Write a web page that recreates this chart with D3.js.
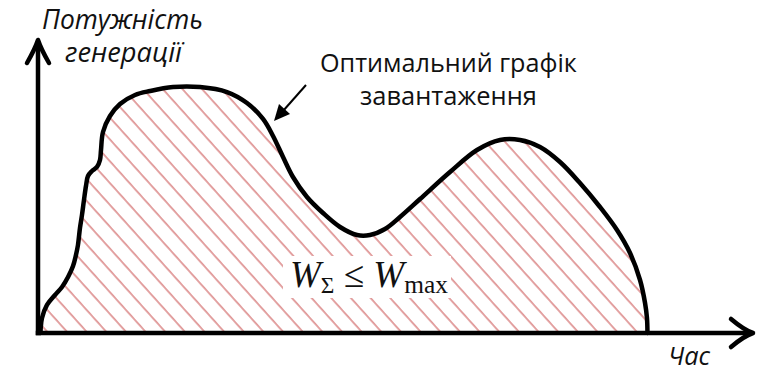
<!DOCTYPE html>
<html><head><meta charset="utf-8">
<script src="https://cdn.jsdelivr.net/npm/d3@7"></script>
<style>
html,body{margin:0;padding:0;background:#fff;}
svg{display:block;}
</style></head>
<body>
<svg id="chart" width="769" height="372"></svg>
<script>
// Time (relative units, 0..100 along the horizontal axis)
const timeValues = [0.35,0.38,0.56,1.26,2.38,3.36,4.2,4.9,5.31,5.59,5.87,6.15,6.43,6.71,6.99,7.55,8.25,8.67,8.81,9.09,10.07,11.47,13.57,15.66,18.88,22.66,26.43,29.23,31.47,32.87,34.27,35.66,37.62,39.86,42.24,44.62,46.43,48.53,50.63,53.43,57.62,61.4,64.62,67.41,70.21,73.01,75.8,78.6,80.98,82.8,84.2,84.9,85.17,85.24];
// Generation power (relative units, 0..100 along the vertical axis)
const powerValues = [0,1.71,5.12,9.56,12.97,15.7,19.11,22.87,26.62,30.03,35.84,40.27,45.39,50.17,53.58,55.29,56.66,59.04,62.46,68.6,74.06,78.16,81.23,82.59,83.96,83.96,82.25,78.5,73.04,67.24,60.07,53.24,46.42,40.96,36.18,33.45,33.45,35.49,39.59,45.73,54.95,62.46,65.87,65.87,63.48,58.36,51.19,43.0,35.15,27.3,18.09,10.24,5.12,0];
const yAxisLabel = ["Потужність", "генерації"];
const xAxisLabel = "Час";
const curveLabel = ["Оптимальний графік", "завантаження"];

const svg = d3.select("#chart");
const x = d3.scaleLinear().domain([0,100]).range([38,753]);
const y = d3.scaleLinear().domain([0,100]).range([333,40]);
const data = timeValues.map((t,i)=>({t, p: powerValues[i]}));

const defs = svg.append("defs");
const pat = defs.append("pattern").attr("id","hatch").attr("patternUnits","userSpaceOnUse")
  .attr("width",14.6).attr("height",14.6).attr("patternTransform","rotate(-42)");
pat.append("line").attr("x1",3).attr("x2",3).attr("y1",-2).attr("y2",17)
  .attr("stroke","#d46f6f").attr("stroke-width",1.5).attr("stroke-opacity",0.85);

const area = d3.area().x(d=>x(d.t)).y0(y(0)).y1(d=>y(d.p)).curve(d3.curveCatmullRom.alpha(0.5));
const line = d3.line().x(d=>x(d.t)).y(d=>y(d.p)).curve(d3.curveCatmullRom.alpha(0.5));

svg.append("path").datum(data).attr("d",area).attr("fill","url(#hatch)");

// formula with white box
const fg = svg.append("g");
fg.append("rect").attr("x",283).attr("y",256).attr("width",168).attr("height",42).attr("fill","#fff");
const ft = fg.append("text").attr("x",290).attr("y",287)
  .attr("font-family","'Liberation Serif','DejaVu Serif',serif").attr("font-size",35).attr("fill","#111");
ft.append("tspan").attr("font-style","italic").text("W");
ft.append("tspan").attr("font-size",22).attr("dy",6).text("Σ");
ft.append("tspan").attr("dy",-6).text(" ≤ ");
ft.append("tspan").attr("font-style","italic").text("W");
ft.append("tspan").attr("font-size",24).attr("dy",6).text("max");
(function(){const w=ft.node().getComputedTextLength();const target=158;
  if(w>0){const s=target/w; ft.attr("transform",`translate(290,287) scale(${s},${s}) translate(-290,-287)`);}})();

svg.append("path").datum(data).attr("d",line).attr("fill","none")
  .attr("stroke","#000").attr("stroke-width",4.5).attr("stroke-linejoin","round").attr("stroke-linecap","round");

// axes
const xAxis = svg.append("g").attr("transform",`translate(0,${y(0)})`)
  .call(d3.axisBottom(x).ticks(0).tickSizeOuter(0));
const yAxis = svg.append("g").attr("transform",`translate(${x(0)},0)`)
  .call(d3.axisLeft(y).ticks(0).tickSizeOuter(0));
[xAxis,yAxis].forEach(a=>a.select(".domain").attr("stroke","#000").attr("stroke-width",4.5));
xAxis.select(".domain").attr("d",`M${x(0)-2.25},0H${x(100)-2}`);
yAxis.select(".domain").attr("d",`M0,${y(0)+2.25}V${y(100)+2}`);

// arrowheads (open chevrons)
svg.append("path").attr("d",`M${x(0)-11},${y(100)+23} Q${x(0)-3},${y(100)+9} ${x(0)},${y(100)} Q${x(0)+3},${y(100)+9} ${x(0)+11},${y(100)+23}`)
  .attr("fill","none").attr("stroke","#000").attr("stroke-width",4.5).attr("stroke-linecap","round").attr("stroke-linejoin","round");
svg.append("path").attr("d",`M${x(100)-22},${y(0)-14} Q${x(100)-9},${y(0)-3} ${x(100)},${y(0)} Q${x(100)-9},${y(0)+3} ${x(100)-22},${y(0)+14}`)
  .attr("fill","none").attr("stroke","#000").attr("stroke-width",4.5).attr("stroke-linecap","round").attr("stroke-linejoin","round");

// annotation arrow
svg.append("line").attr("x1",306).attr("y1",85).attr("x2",283).attr("y2",111)
  .attr("stroke","#000").attr("stroke-width",2);
svg.append("path").attr("d","M274,121 L279,104 L290,114 Z").attr("fill","#000");

function fit(sel, target){const w=sel.node().getComputedTextLength(); const fs=+sel.attr("font-size"); sel.attr("font-size", fs*target/w);}
const sans = "'Open Sans','Noto Sans',sans-serif";
const t1 = svg.append("text").attr("x",42).attr("y",29).attr("font-family",sans).attr("font-style","italic").attr("font-size",24).attr("fill","#111").text(yAxisLabel[0]);
fit(t1,161);
const t2 = svg.append("text").attr("x",65).attr("y",62).attr("font-family",sans).attr("font-style","italic").attr("font-size",24).attr("fill","#111").text(yAxisLabel[1]);
fit(t2,117);
const t3 = svg.append("text").attr("x",320).attr("y",72).attr("font-family",sans).attr("font-size",24).attr("fill","#111").text(curveLabel[0]);
fit(t3,257);
const t4 = svg.append("text").attr("x",360).attr("y",105).attr("font-family",sans).attr("font-size",24).attr("fill","#111").text(curveLabel[1]);
fit(t4,177);
const t5 = svg.append("text").attr("x",668).attr("y",365).attr("font-family",sans).attr("font-style","italic").attr("font-size",24).attr("fill","#111").text(xAxisLabel);
fit(t5,42);
</script>
</body></html>
